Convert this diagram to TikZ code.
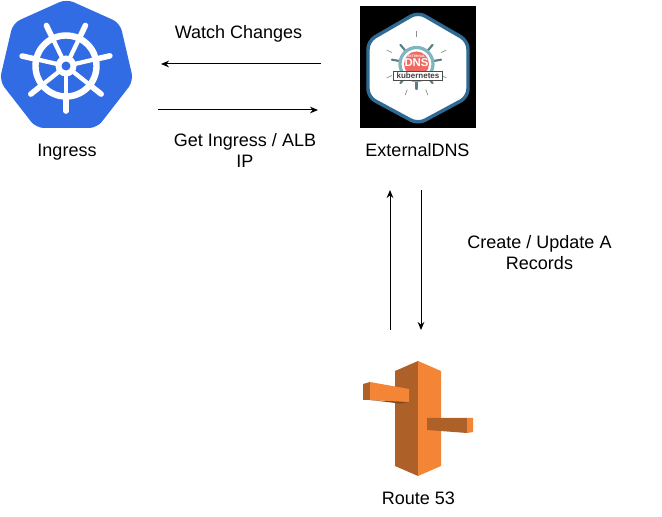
\documentclass[tikz,border=0pt]{standalone}
\usepackage{fontspec}
\usetikzlibrary{arrows.meta}
\setmainfont{Liberation Sans}
\definecolor{kubeblue}{HTML}{326CE5}
\definecolor{hexblue}{HTML}{2F6A94}
\definecolor{wheelteal}{HTML}{7FB5BE}
\definecolor{dnsred}{HTML}{EE6A63}
\definecolor{awslight}{HTML}{F58536}
\definecolor{awsdark}{HTML}{AE6029}
\definecolor{awsdeep}{HTML}{7A4520}
\tikzset{
	lbl/.style={font=\fontsize{13.5}{15.7}\selectfont, align=center, inner sep=0pt},
	flow/.style={-{Stealth[length=6pt,width=5pt]}, line width=0.75pt},
}
\begin{document}
\begin{tikzpicture}[x=0.75pt, y=-0.75pt]
		\useasboundingbox (0,0) rectangle (662,517);

		% Ingress
		\fill[kubeblue, rounded corners=6pt] (66.5,-1) -- (120,23) -- (133.5,81) -- (97,128) -- (36,128) -- (-0.5,81) -- (13,23) -- cycle;
		\begin{scope}[shift={(66,66)}, white]
			\draw[line width=4.8pt] (0,0) circle (30.5);
			\foreach \a in {90,141.4,192.8,244.2,295.6,347,38.6} {
				\draw[line width=3.2pt, line cap=round] (\a:8) -- (\a:30);
				\draw[line width=4.2pt, line cap=round] (\a:30) -- (\a:45);
			}
			\fill (0,0) circle (10.5);
			\fill[kubeblue] (0,0) circle (4.5);
		\end{scope}

		% ExternalDNS
		\fill[black] (360,6) rectangle (476,128);
		\draw[hexblue, fill=white, line width=2.6pt, rounded corners=6pt] (418,12) -- (468,41) -- (468,97) -- (418,124) -- (368,97) -- (368,41) -- cycle;
		\begin{scope}[shift={(416.5,64)}]
			\foreach \a in {90,50,130,-10,190,-50,230} {
				\draw[wheelteal!70!black, line width=1.6pt, line cap=round] (\a:14) -- (\a:25);
			}
			\foreach \a in {70,110,25,155,-25,205,-90} {
				\draw[black!45, line width=0.5pt] (\a:27) -- (\a:33);
			}
			\draw[wheelteal, line width=2.4pt, fill=white] (0,0) circle (16.5);
			\fill[dnsred] (0,0) circle (12.5);
			\node[text=white, font=\bfseries\fontsize{8.5}{9}\selectfont, inner sep=0pt] (dnstxt) at (0,-1) {DNS};
			\node[text=white, font=\bfseries\fontsize{2.5}{3}\selectfont, inner sep=0pt] (exttxt) at (0,-8) {EXTERNAL};
			\node[draw=black!70, fill=white, line width=0.4pt, minimum width=37pt, minimum height=6.5pt, inner sep=0pt, font=\bfseries\fontsize{6}{6}\selectfont, text=black!75] (kubetxt) at (1.5,12) {kubernetes};
		\end{scope}

		% Route 53
		\fill[awsdark] (395,371) -- (418,361) -- (418,476) -- (395,466) -- cycle;
		\fill[awslight] (418,361) -- (441,371) -- (441,466) -- (418,476) -- cycle;
		\fill[awsdeep] (370,400) -- (400,403.5) -- (409,402) -- cycle;
		\fill[awsdark] (363,384) -- (370,382) -- (370,400) -- (363,400) -- cycle;
		\fill[awslight] (370,382) -- (409,389) -- (409,402) -- (370,400) -- cycle;
		\fill[awsdark] (427,418) -- (467,418) -- (467,433) -- (427,430) -- cycle;
		\fill[awslight] (467,418) -- (473,418) -- (473,432) -- (467,433) -- cycle;

		% labels
		\node[lbl] (ingress) at (67,152) {Ingress};
		\node[lbl] (watch) at (238.5,33.5) {Watch Changes};
		\node[lbl] (getip) at (245,150.5) {Get Ingress / ALB\\IP};
		\node[lbl] (extdns) at (417.5,150.5) {ExternalDNS};
		\node[lbl] (create) at (539.5,253) {Create / Update A\\Records};
		\node[lbl] (route) at (418.5,498.5) {Route 53};

		% arrows
		\coordinate (w1) at (321,64);
		\coordinate (w2) at (161,64);
		\coordinate (g1) at (158,110);
		\coordinate (g2) at (318,110);
		\coordinate (u1) at (390,330);
		\coordinate (u2) at (390,190);
		\coordinate (d1) at (421,190);
		\coordinate (d2) at (421,330);
		\draw[flow] (w1)--(w2);
		\draw[flow] (g1)--(g2);
		\draw[flow] (u1)--(u2);
		\draw[flow] (d1)--(d2);
		\end{tikzpicture}
\end{document}
